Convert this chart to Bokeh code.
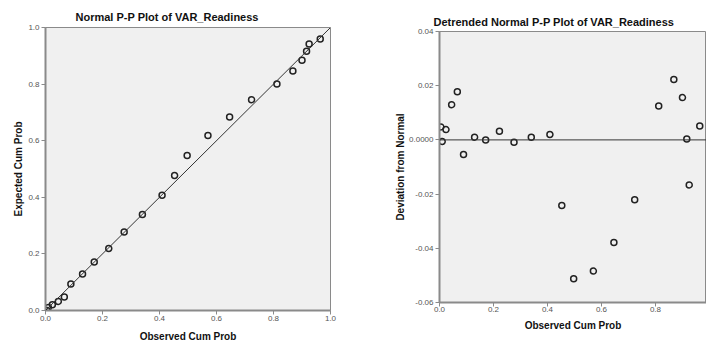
from bokeh.plotting import figure
from bokeh.layouts import row, column
from bokeh.models import (FixedTicker, PrintfTickFormatter, Span, Slope, ColumnDataSource,
                          CustomJSTickFormatter)
from bokeh.embed import file_html
from bokeh.resources import INLINE

observed = [0.005, 0.010, 0.024, 0.045, 0.066, 0.089, 0.130, 0.171, 0.222, 0.276,
            0.340, 0.409, 0.453, 0.497, 0.570, 0.646, 0.723, 0.812, 0.868, 0.900,
            0.916, 0.925, 0.964]
expected = [0.000, 0.011, 0.020, 0.032, 0.048, 0.094, 0.129, 0.171, 0.219, 0.277,
            0.339, 0.407, 0.477, 0.548, 0.618, 0.684, 0.745, 0.800, 0.846, 0.884,
            0.916, 0.942, 0.959]
deviation = [0.0048, -0.0006, 0.0038, 0.0130, 0.0178, -0.0054, 0.0010, 0.0000, 0.0032,
             -0.0009, 0.0010, 0.0020, -0.0242, -0.0512, -0.0484, -0.0379, -0.0221,
             0.0125, 0.0223, 0.0156, 0.0003, -0.0166, 0.0051]

pp_ticks = [0.0, 0.2, 0.4, 0.6, 0.8, 1.0]
dev_ticks = [-0.06, -0.04, -0.02, 0.0, 0.02, 0.04]
dev_labels = ["-0.06", "-0.04", "-0.02", "0.0000", "0.02", "0.04"]

FONT = "Liberation Sans"
AXIS_COL = "#8a8a8a"
TICKLAB = "#555555"
MARK = "#222222"
BG = "#f0f0f0"

src = ColumnDataSource(dict(obs=observed, exp=expected, dev=deviation))


def style(p):
    p.background_fill_color = BG
    p.border_fill_color = "white"
    p.outline_line_color = AXIS_COL
    p.outline_line_width = 1
    p.grid.visible = False
    p.title.text_font = FONT
    p.title.text_font_size = "11px"
    p.title.text_font_style = "bold"
    p.title.text_color = "#111111"
    p.title.align = "left"
    for ax in (p.xaxis[0], p.yaxis[0]):
        ax.axis_line_color = AXIS_COL
        ax.axis_line_width = 2
        ax.major_tick_line_color = AXIS_COL
        ax.major_tick_line_width = 1
        ax.major_tick_out = 4
        ax.major_tick_in = 0
        ax.minor_tick_line_color = None
        ax.major_label_text_font = FONT
        ax.major_label_text_font_size = "8px"
        ax.major_label_text_color = TICKLAB
        ax.axis_label_text_font = FONT
        ax.axis_label_text_font_size = "10px"
        ax.axis_label_text_font_style = "bold"
        ax.axis_label_text_color = "#111111"


# Left: Normal P-P plot
p1 = figure(width=353, height=344, x_range=(0, 1), y_range=(0, 1),
            output_backend="svg", toolbar_location=None,
            title="Normal P-P Plot of VAR_Readiness",
            min_border_left=45, min_border_right=23, min_border_top=27, min_border_bottom=34)
style(p1)
p1.title.offset = 30
p1.title.standoff = 10
p1.xaxis.axis_label = "Observed Cum Prob"
p1.yaxis.axis_label = "Expected Cum Prob"
p1.xaxis.ticker = FixedTicker(ticks=pp_ticks)
p1.yaxis.ticker = FixedTicker(ticks=pp_ticks)
p1.xaxis.formatter = PrintfTickFormatter(format="%.1f")
p1.yaxis.formatter = PrintfTickFormatter(format="%.1f")
p1.xaxis.major_label_standoff = 1
p1.xaxis.axis_label_standoff = 7
p1.yaxis.major_label_standoff = 2
p1.yaxis.axis_label_standoff = 1
p1.add_layout(Slope(gradient=1, y_intercept=0, line_color="#333333", line_width=1))
p1.scatter("obs", "exp", source=src, size=6, fill_color=None,
           line_color=MARK, line_width=1.5)

# Right: Detrended Normal P-P plot
p2 = figure(width=353, height=344, x_range=(0, 0.989), y_range=(-0.06, 0.04),
            output_backend="svg", toolbar_location=None,
            title="Detrended Normal P-P Plot of VAR_Readiness",
            min_border_left=86, min_border_right=0, min_border_top=31, min_border_bottom=42)
style(p2)
p2.title.offset = -6
p2.title.standoff = 8
p2.xaxis.axis_label = "Observed Cum Prob"
p2.yaxis.axis_label = "Deviation from Normal"
p2.xaxis.ticker = FixedTicker(ticks=pp_ticks)
p2.yaxis.ticker = FixedTicker(ticks=dev_ticks)
p2.xaxis.formatter = PrintfTickFormatter(format="%.1f")
p2.yaxis.formatter = CustomJSTickFormatter(
    args=dict(tvals=dev_ticks, tlabs=dev_labels),
    code="""
    let best = 0, bd = Infinity;
    for (let i = 0; i < tvals.length; i++) {
        const d = Math.abs(tvals[i] - tick);
        if (d < bd) { bd = d; best = i; }
    }
    return tlabs[best];
    """)
p2.xaxis.major_label_standoff = 0
p2.xaxis.axis_label_standoff = 5
p2.yaxis.major_label_standoff = 2
p2.yaxis.axis_label_standoff = 0
p2.add_layout(Span(location=0, dimension="width", line_color="#333333", line_width=1))
p2.scatter("obs", "dev", source=src, size=6, fill_color=None,
           line_color=MARK, line_width=1.5)

layout = row(column(p1), column(p2))
open("out.html", "w").write(file_html(layout, INLINE))
